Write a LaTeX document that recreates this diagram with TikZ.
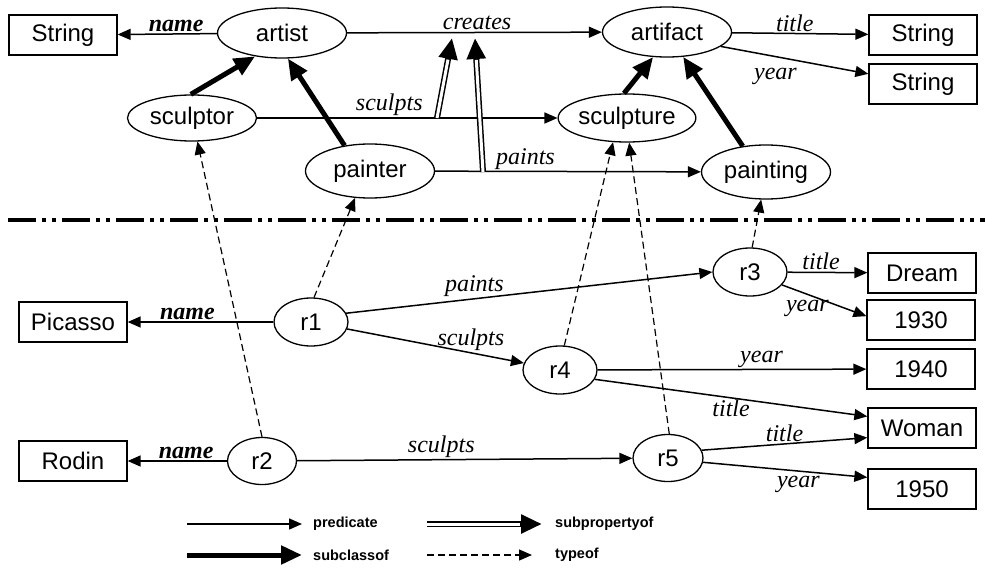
\documentclass[tikz,border=0pt]{standalone}
\usepackage{fontspec}
\setmainfont{Liberation Sans}
\newfontfamily\lblfont{Liberation Serif}
\usetikzlibrary{arrows.meta, shapes.geometric}
\tikzset{cls/.style={ellipse,draw,line width=1.3pt,minimum width=129pt,minimum height=50pt,inner sep=0pt,font=\fontsize{24}{28}\selectfont},
inst/.style={ellipse,draw,line width=1.3pt,minimum width=74pt,minimum height=48pt,inner sep=0pt,font=\fontsize{24}{28}\selectfont},
lit/.style={rectangle,draw,line width=1.3pt,minimum width=108pt,minimum height=40pt,inner sep=0pt,font=\fontsize{24}{28}\selectfont},
lab/.style={inner sep=1.5pt,font=\fontsize{24}{28}\selectfont\lblfont\itshape},
nm/.style={lab,font=\fontsize{24}{28}\selectfont\lblfont\bfseries\itshape},
leg/.style={inner sep=0pt,anchor=west,font=\fontsize{14.5}{16}\selectfont\bfseries},
pred/.style={line width=1.5pt,-{Triangle[length=13pt,width=11pt]}},
subcls/.style={line width=5pt,-{Triangle[length=21pt,width=18pt]}},
subprop/.style={line width=6pt,-{Triangle[length=21pt,width=18pt]},postaction={draw=white,line width=3pt,-,shorten >=22pt}},
typ/.style={line width=1.2pt,dash pattern=on 7pt off 4pt,-{Triangle[length=13pt,width=11pt]}},
sep/.style={line width=4pt,dash pattern=on 28pt off 6pt on 4pt off 6pt on 4pt off 6pt}}

\begin{document}
\begin{tikzpicture}[x=1pt,y=-1pt]
\useasboundingbox (0,0) rectangle (985,570);
% schema
\node[cls] (artist) at (282,33) {artist};
\node[cls] (artifact) at (667,32) {artifact};
\node[cls,minimum height=46pt] (sculptor) at (192,118) {sculptor};
\node[cls,minimum width=131pt,minimum height=48pt] (sculpture) at (627,118) {sculpture};
\node[cls,minimum height=54pt] (painter) at (370,171) {painter};
\node[cls,minimum height=54pt] (painting) at (766,172) {painting};
\node[lit] (str1) at (63,35) {String};
\node[lit] (str2) at (923,35) {String};
\node[lit] (str3) at (923,84) {String};
\draw[pred] (artist) -- node[nm,above,pos=0.41] {name} (str1);
\draw[pred] (artist) -- node[lab,above,pos=0.51] {creates} (artifact);
\draw[pred] (artifact) -- node[lab,above,pos=0.46] {title} (str2);
\draw[pred] (artifact.345) -- node[lab,below=9pt,pos=0.37] {year} (str3);
\draw[pred] (sculptor) -- node[lab,above,pos=0.44] {sculpts} (sculpture);
\draw[pred] (painter) -- node[lab,above,pos=0.34] {paints} (painting);
\coordinate (sp1) at (437,118);
\coordinate (cr1) at (452,38);
\coordinate (sp2) at (483,172);
\coordinate (cr2) at (475,38);
\draw[subprop] (sp1) -- (cr1);
\draw[subprop] (sp2) -- (cr2);
\draw[subcls] (sculptor.93) -- (artist.221);
\draw[subcls] (painter.135) -- (artist.283);
\draw[subcls] (sculpture.97) -- (artifact.241);
\draw[subcls] (painting.132) -- (artifact.303);
% separator
\coordinate (sepl) at (8,220);
\coordinate (sepr) at (985,220);
\draw[sep] (sepl) -- (sepr);
% instances
\node[inst] (r1) at (311,322) {r1};
\node[inst,minimum width=69pt,minimum height=47pt] (r2) at (262,461) {r2};
\node[inst] (r3) at (750,272) {r3};
\node[inst] (r4) at (560,370) {r4};
\node[inst,minimum width=70pt,minimum height=47pt] (r5) at (668,458) {r5};
\node[lit] (picasso) at (73,322) {Picasso};
\node[lit] (rodin) at (73,461) {Rodin};
\node[lit] (dream) at (922,273) {Dream};
\node[lit] (y1930) at (921,320) {1930};
\node[lit] (y1940) at (921,369) {1940};
\node[lit] (woman) at (922,428) {Woman};
\node[lit] (y1950) at (922,489) {1950};
\draw[pred] (r1) -- node[nm,above,pos=0.59] {name} (picasso);
\draw[pred] (r1.14) -- node[lab,above,pos=0.35] {paints} (r3.west);
\draw[pred] (r1) -- node[lab,above,pos=0.7] {sculpts} (r4);
\draw[pred] (r3) -- node[lab,above,pos=0.42] {title} (dream);
\draw[pred] (r3.338) -- node[lab,below=4pt,pos=0.3] {year} (y1930.176);
\draw[pred] (r4) -- node[lab,above,pos=0.61] {year} (y1940);
\draw[pred] (r4.345) -- node[lab,below,pos=0.5] {title} (woman.168);
\draw[pred] (r2) -- node[nm,above,pos=0.41] {name} (rodin);
\draw[pred] (r2) -- node[lab,above,pos=0.43] {sculpts} (r5);
\draw[pred] (r5.13) -- node[lab,above,pos=0.5] {title} (woman.190);
\draw[pred] (r5.353) -- node[lab,below=3pt,pos=0.58] {year} (y1950.168);
\draw[typ] (r1.83) -- (painter.241);
\draw[typ] (r2.north) -- (sculptor.283);
\draw[typ] (r4.80) -- (sculpture.240);
\draw[typ] (r5.87) -- (sculpture.275);
\draw[typ] (r3.85) -- (painting.260);
% legend
\node[leg] (lpred) at (313,524) {predicate};
\node[leg] (lsubc) at (313,555) {subclassof};
\node[leg] (lsubp) at (555,524) {subpropertyof};
\node[leg] (ltype) at (555,555) {typeof};
\coordinate (lp0) at (187,524);
\coordinate (lc0) at (187,555);
\coordinate (ls0) at (427,524);
\coordinate (lt0) at (427,555);
\draw[pred] (lp0) -- ([xshift=-11pt]lpred.west);
\draw[subcls] (lc0) -- ([xshift=-11pt]lsubc.west);
\draw[subprop] (ls0) -- ([xshift=-13pt]lsubp.west);
\draw[typ] (lt0) -- ([xshift=-23pt]ltype.west);
\end{tikzpicture}
\end{document}
